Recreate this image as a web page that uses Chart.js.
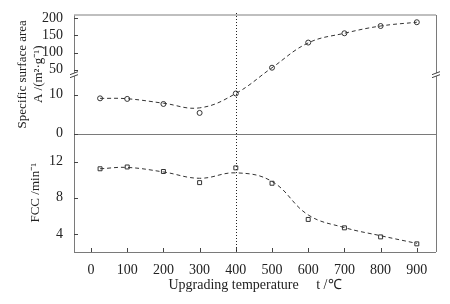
<!DOCTYPE html>
<html>
<head>
<meta charset="utf-8">
<script src="https://cdn.jsdelivr.net/npm/chart.js@4"></script>
<style>
  html, body { margin: 0; padding: 0; background: #fff; }
  #wrap { width: 450px; height: 304px; }
</style>
</head>
<body>
<div id="wrap"><canvas id="chart" width="450" height="304"></canvas></div>
<script>
// Data
const temps = [25, 100, 200, 300, 400, 500, 600, 700, 800, 900];
const areaValues = [9.05, 8.9, 7.6, 5.3, 10.3, 56, 129, 156, 177, 188];
const areaFit = [9.05, 8.95, 7.8, 6.6, 10.3, 56, 128, 156, 177, 188];
const fccValues = [11.2, 11.4, 10.9, 9.67, 11.3, 9.6, 5.6, 4.67, 3.67, 2.9];
const fccFit = [11.2, 11.35, 10.85, 10.15, 10.75, 9.8, 6.1, 4.7, 3.8, 2.95];
const xTicks = [0, 100, 200, 300, 400, 500, 600, 700, 800, 900];
const areaTicks = [0, 10, 50, 100, 150, 200];
const fccTicks = [4, 8, 12];

// broken axis: 0..15 linear, 50..200 compressed
function toD(v) {
  if (v <= 15) return v;
  return 16.4 + (v - 50) * 0.0887;
}

const serif = 'Liberation Serif';
const axisGray = '#7a7a7a';

const pts = (vals, f) => temps.map((t, i) => ({ x: t, y: f ? f(vals[i]) : vals[i] }));

// Frame, inner ticks, breaks and the 400 marker line
const framePlugin = {
  id: 'frame',
  afterDraw(chart) {
    const { ctx, chartArea: a, scales } = chart;
    const yA = scales.yA, yF = scales.yF, x = scales.x;
    ctx.save();
    ctx.lineWidth = 1;
    ctx.strokeStyle = axisGray;
    ctx.beginPath();
    ctx.moveTo(a.left + 0.5, a.top); ctx.lineTo(a.left + 0.5, a.bottom);
    ctx.moveTo(a.left, a.bottom + 0.5); ctx.lineTo(a.right, a.bottom + 0.5);
    ctx.moveTo(a.right + 0.5, a.top); ctx.lineTo(a.right + 0.5, a.bottom);
    const mid = Math.round(yA.bottom) + 0.5;
    ctx.moveTo(a.left, mid); ctx.lineTo(a.right, mid);
    ctx.stroke();
    ctx.strokeStyle = '#aaa';
    ctx.lineWidth = 1.5;
    ctx.beginPath();
    ctx.moveTo(a.left, a.top); ctx.lineTo(a.right, a.top);
    ctx.stroke();

    // inner ticks
    ctx.strokeStyle = '#444';
    ctx.lineWidth = 1;
    ctx.beginPath();
    areaTicks.forEach(v => {
      const py = Math.round(yA.getPixelForValue(toD(v))) + 0.5;
      ctx.moveTo(a.left, py); ctx.lineTo(a.left + 4, py);
    });
    fccTicks.forEach(v => {
      const py = Math.round(yF.getPixelForValue(v)) + 0.5;
      ctx.moveTo(a.left, py); ctx.lineTo(a.left + 4, py);
    });
    xTicks.forEach(v => {
      const px = Math.round(x.getPixelForValue(v)) + 0.5;
      ctx.moveTo(px, a.bottom); ctx.lineTo(px, a.bottom - 4);
    });
    ctx.stroke();

    // axis break marks
    const by = yA.getPixelForValue(15.4);
    [a.left, a.right].forEach(bx => {
      ctx.fillStyle = '#fff';
      ctx.beginPath();
      ctx.moveTo(bx - 4, by + 1); ctx.lineTo(bx + 4, by - 2);
      ctx.lineTo(bx + 4, by + 1); ctx.lineTo(bx - 4, by + 4);
      ctx.closePath(); ctx.fill();
      ctx.strokeStyle = '#444';
      ctx.beginPath();
      ctx.moveTo(bx - 4, by + 1); ctx.lineTo(bx + 4, by - 2);
      ctx.moveTo(bx - 4, by + 4); ctx.lineTo(bx + 4, by + 1);
      ctx.stroke();
    });

    // dotted marker at 400 C
    const dx = Math.round(x.getPixelForValue(400)) + 0.5;
    ctx.strokeStyle = '#222';
    ctx.setLineDash([1, 2]);
    ctx.beginPath();
    ctx.moveTo(dx, a.top - 2); ctx.lineTo(dx, a.bottom);
    ctx.stroke();
    ctx.restore();
  }
};

const ctx = document.getElementById('chart').getContext('2d');
new Chart(ctx, {
  type: 'scatter',
  data: {
    datasets: [
      {
        data: pts(areaFit, toD), yAxisID: 'yA', showLine: true, tension: 0.4,
        borderColor: '#333', borderWidth: 1, borderDash: [4, 3], pointRadius: 0
      },
      {
        data: pts(areaValues, toD), yAxisID: 'yA', showLine: false,
        pointStyle: 'circle', pointRadius: 2.5, borderWidth: 1,
        borderColor: '#333', backgroundColor: '#fff'
      },
      {
        data: pts(fccFit), yAxisID: 'yF', showLine: true, tension: 0.4,
        borderColor: '#333', borderWidth: 1, borderDash: [4, 3], pointRadius: 0
      },
      {
        data: pts(fccValues), yAxisID: 'yF', showLine: false,
        pointStyle: 'rect', pointRadius: 2.8, borderWidth: 1,
        borderColor: '#333', backgroundColor: '#fff'
      }
    ]
  },
  options: {
    responsive: false,
    animation: false,
    layout: { padding: { top: 15, right: 14, left: 0, bottom: 0 } },
    plugins: { legend: { display: false }, tooltip: { enabled: false } },
    scales: {
      x: {
        type: 'linear', min: -47, max: 953,
        afterBuildTicks: s => { s.ticks = xTicks.map(v => ({ value: v })); },
        afterFit: s => { s.height = 52; },
        grid: { display: false }, border: { display: false },
        ticks: { autoSkip: false, maxRotation: 0, padding: 2, color: '#222', font: { family: serif, size: 14 } },
        title: {
          display: true, text: 'Upgrading temperature     t /℃', color: '#222',
          font: { family: serif, size: 14 }, padding: { top: 0, bottom: 10 }
        }
      },
      yA: {
        type: 'linear', position: 'left', stack: 'left', stackWeight: 1, weight: 1,
        min: 0, max: 30.5,
        afterBuildTicks: s => { s.ticks = areaTicks.map(v => ({ value: toD(v) })); },
        afterFit: s => { s.width = 74; },
        grid: { display: false }, border: { display: false },
        ticks: {
          autoSkip: false, padding: 3, color: '#222', font: { family: serif, size: 14 },
          callback: (v, i) => String(areaTicks[i])
        },
        title: {
          display: true, text: ['Specific surface area', 'A /(m²·g⁻¹)'], color: '#222',
          font: { family: serif, size: 13, lineHeight: 1.25 }, padding: { top: 14, bottom: 0 }
        }
      },
      yF: {
        type: 'linear', position: 'left', stack: 'left', stackWeight: 1, weight: 0,
        min: 2, max: 15.1,
        afterBuildTicks: s => { s.ticks = fccTicks.map(v => ({ value: v })); },
        afterFit: s => { s.width = 74; },
        grid: { display: false }, border: { display: false },
        ticks: { autoSkip: false, padding: 3, color: '#222', font: { family: serif, size: 14 } },
        title: {
          display: true, text: 'FCC /min⁻¹', color: '#222',
          font: { family: serif, size: 13, lineHeight: 1.25 }, padding: { top: 27, bottom: 0 }
        }
      }
    }
  },
  plugins: [framePlugin]
});
</script>
</body>
</html>
